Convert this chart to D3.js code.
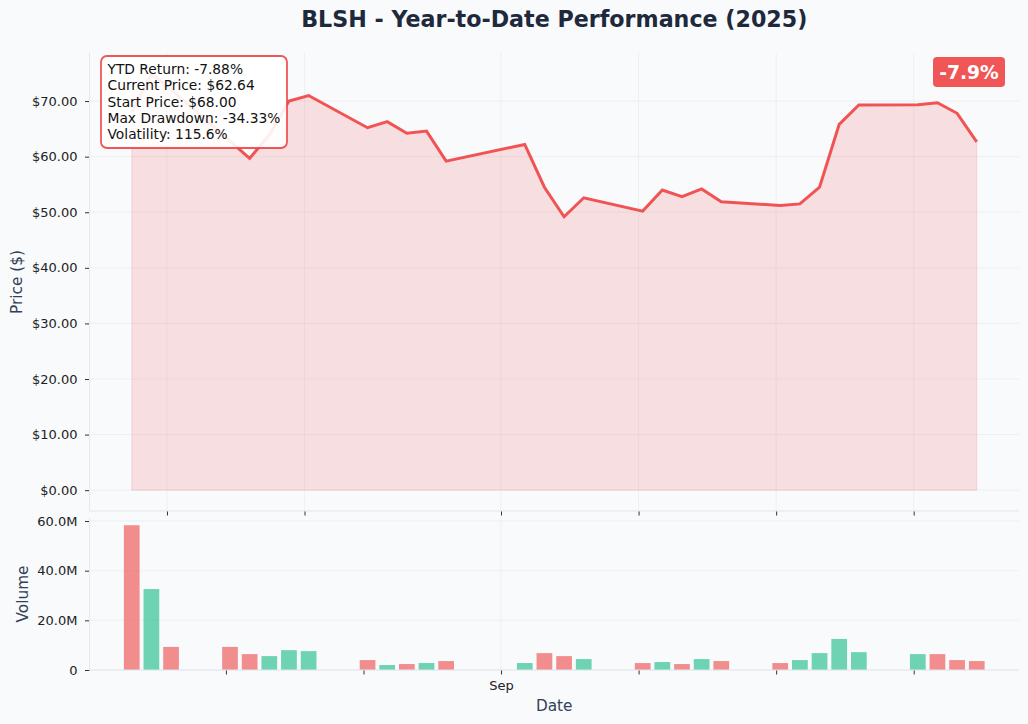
<!DOCTYPE html>
<html>
<head>
<meta charset="utf-8">
<script src="https://cdnjs.cloudflare.com/ajax/libs/d3/7.8.5/d3.min.js"></script>
<style>
  body { margin: 0; background: #f8fafc; }
  svg { display: block; font-family: "DejaVu Sans", sans-serif; }
  .tick text { fill: #222; font-size: 13px; font-family: "DejaVu Sans", sans-serif; }
  .tick line { stroke: #333; }
  .domain { stroke: none; }
</style>
</head>
<body>
<div id="chart"></div>
<script>
// trading days since the listing
var dates = ["2025-08-13","2025-08-14","2025-08-15",
  "2025-08-18","2025-08-19","2025-08-20","2025-08-21","2025-08-22",
  "2025-08-25","2025-08-26","2025-08-27","2025-08-28","2025-08-29",
  "2025-09-02","2025-09-03","2025-09-04","2025-09-05",
  "2025-09-08","2025-09-09","2025-09-10","2025-09-11","2025-09-12",
  "2025-09-15","2025-09-16","2025-09-17","2025-09-18","2025-09-19",
  "2025-09-22","2025-09-23","2025-09-24","2025-09-25"];
var closes = [68.00, 74.90, 72.1,
  62.8, 59.7, 63.9, 70.0, 71.0,
  65.2, 66.3, 64.2, 64.6, 59.2,
  62.2, 54.5, 49.19, 52.6,
  50.2, 54.0, 52.8, 54.2, 51.9,
  51.2, 51.5, 54.5, 65.8, 69.3,
  69.35, 69.7, 67.8, 62.64];
// volume in millions
var volumes = [58.3, 32.6, 9.3,
  9.3, 6.4, 5.6, 8.0, 7.6,
  4.0, 2.0, 2.4, 2.8, 3.6,
  2.8, 6.8, 5.6, 4.4,
  2.8, 3.2, 2.4, 4.4, 3.6,
  2.8, 4.0, 6.8, 12.5, 7.2,
  6.4, 6.4, 4.0, 3.6];
// close above open?
var upDay = [false, true, false,
  false, false, true, true, true,
  false, true, false, true, false,
  true, false, false, true,
  false, true, false, true, false,
  false, true, true, true, true,
  true, false, false, false];

var priceTicks = [0, 10, 20, 30, 40, 50, 60, 70];
var volumeTicks = [0, 20, 40, 60];
var priceDateTicks = ["2025-08-15","2025-08-22","2025-09-01","2025-09-08","2025-09-15","2025-09-22"];
var volumeDateTicks = ["2025-08-18","2025-08-25","2025-09-01","2025-09-08","2025-09-15","2025-09-22"];

var statsLines = ["YTD Return: -7.88%", "Current Price: $62.64", "Start Price: $68.00",
  "Max Drawdown: -34.33%", "Volatility: 115.6%"];
var badgeText = "-7.9%";

var red = "#ef4444", green = "#10b981";
var W = 1028, H = 724;
var left = 89.5, right = 1019;
var pTop = 53, pBottom = 511;
var vTop = 518, vBottom = 670;

var parse = d3.timeParse("%Y-%m-%d %H");
var parseDay = d3.timeParse("%Y-%m-%d");
var data = dates.map(function(d, i) {
  return {date: parse(d + " 05"), close: closes[i], vol: volumes[i], up: upDay[i]};
});

var svg = d3.select("#chart").append("svg")
  .attr("width", W).attr("height", H)
  .style("background", "#f8fafc");

// x scale with matplotlib-like 5% margins
var ext = d3.extent(data, function(d) { return d.date; });
var span = ext[1] - ext[0];
var x = d3.scaleTime()
  .domain([new Date(+ext[0] - span * 0.05), new Date(+ext[1] + span * 0.05)])
  .range([left, right]);

var pMax = d3.max(closes);
var y = d3.scaleLinear()
  .domain([-pMax * 0.05, pMax * 1.05])
  .range([pBottom, pTop]);

var vMax = d3.max(volumes);
var yv = d3.scaleLinear()
  .domain([0, vMax * 1.05])
  .range([vBottom, vTop]);

var gridColor = "#e5e7eb";

// ---- price panel ----
var pg = svg.append("g");

pg.append("g").selectAll("line")
  .data(priceTicks).enter().append("line")
  .attr("x1", left).attr("x2", right)
  .attr("y1", function(d) { return y(d); }).attr("y2", function(d) { return y(d); })
  .attr("stroke", gridColor).attr("stroke-opacity", 0.5);

pg.append("g").selectAll("line")
  .data(priceDateTicks).enter().append("line")
  .attr("x1", function(d) { return x(parseDay(d)); }).attr("x2", function(d) { return x(parseDay(d)); })
  .attr("y1", pTop).attr("y2", pBottom)
  .attr("stroke", gridColor).attr("stroke-opacity", 0.5);

var area = d3.area()
  .x(function(d) { return x(d.date); })
  .y0(y(0))
  .y1(function(d) { return y(d.close); });

pg.append("path")
  .datum(data)
  .attr("d", area)
  .attr("fill", red).attr("fill-opacity", 0.15)
  .attr("stroke", red).attr("stroke-opacity", 0.15);

var line = d3.line()
  .x(function(d) { return x(d.date); })
  .y(function(d) { return y(d.close); });

pg.append("path")
  .datum(data)
  .attr("d", line)
  .attr("fill", "none")
  .attr("stroke", red).attr("stroke-opacity", 0.9)
  .attr("stroke-width", 3)
  .attr("stroke-linejoin", "miter");

// axes
pg.append("g")
  .attr("transform", "translate(" + left + ",0)")
  .call(d3.axisLeft(y).tickValues(priceTicks).tickSize(4.5).tickPadding(7.5)
    .tickFormat(function(d) { return "$" + d3.format(".2f")(d); }));

pg.append("g")
  .attr("transform", "translate(0," + pBottom + ")")
  .call(d3.axisBottom(x).tickValues(priceDateTicks.map(function(d) { return parseDay(d); }))
    .tickSize(4.5).tickFormat(""));

pg.append("line")
  .attr("x1", left).attr("x2", left).attr("y1", pTop).attr("y2", pBottom)
  .attr("stroke", "#e2e8f0");
pg.append("line")
  .attr("x1", left).attr("x2", right).attr("y1", pBottom).attr("y2", pBottom)
  .attr("stroke", "#e2e8f0");

// ---- volume panel ----
var vg = svg.append("g");

vg.append("g").selectAll("line")
  .data(volumeTicks).enter().append("line")
  .attr("x1", left).attr("x2", right)
  .attr("y1", function(d) { return yv(d); }).attr("y2", function(d) { return yv(d); })
  .attr("stroke", gridColor).attr("stroke-opacity", 0.5);

vg.append("line")
  .attr("x1", x(parseDay("2025-09-01"))).attr("x2", x(parseDay("2025-09-01")))
  .attr("y1", vTop).attr("y2", vBottom)
  .attr("stroke", gridColor).attr("stroke-opacity", 0.5);

var dayMs = 24 * 3600 * 1000;
vg.append("g").selectAll("rect")
  .data(data).enter().append("rect")
  .attr("x", function(d) { return x(new Date(+d.date - 0.4 * dayMs)); })
  .attr("width", function(d) { return x(new Date(+d.date + 0.4 * dayMs)) - x(new Date(+d.date - 0.4 * dayMs)); })
  .attr("y", function(d) { return yv(d.vol); })
  .attr("height", function(d) { return yv(0) - yv(d.vol); })
  .attr("fill", function(d) { return d.up ? green : red; })
  .attr("fill-opacity", 0.6);

vg.append("g")
  .attr("transform", "translate(" + left + ",0)")
  .call(d3.axisLeft(yv).tickValues(volumeTicks).tickSize(4.5).tickPadding(7.5)
    .tickFormat(function(d) { return d === 0 ? "0" : d3.format(".1f")(d) + "M"; }));

vg.append("g")
  .attr("transform", "translate(0," + vBottom + ")")
  .call(d3.axisBottom(x).tickValues(volumeDateTicks.map(function(d) { return parseDay(d); }))
    .tickSize(4.5).tickPadding(6)
    .tickFormat(function(d) { return d.getDate() === 1 ? d3.timeFormat("%b")(d) : ""; }));

vg.append("line")
  .attr("x1", left).attr("x2", left).attr("y1", vTop).attr("y2", vBottom)
  .attr("stroke", "#e2e8f0");
vg.append("line")
  .attr("x1", left).attr("x2", right).attr("y1", vBottom).attr("y2", vBottom)
  .attr("stroke", "#e2e8f0");

// ---- labels ----
var labels = svg.append("g").attr("fill", "#334155");

labels.append("text")
  .text("BLSH - Year-to-Date Performance (2025)")
  .attr("x", (left + right) / 2).attr("y", 27)
  .attr("text-anchor", "middle")
  .attr("font-size", 22.2).attr("font-weight", "bold")
  .attr("fill", "#1e293b");

labels.append("text")
  .text("Date")
  .attr("x", (left + right) / 2).attr("y", 711)
  .attr("text-anchor", "middle")
  .attr("font-size", 15.3);

labels.append("text")
  .text("Price ($)")
  .attr("text-anchor", "middle")
  .attr("font-size", 15.3)
  .attr("transform", "translate(22," + ((pTop + pBottom) / 2) + ")rotate(-90)");

labels.append("text")
  .text("Volume")
  .attr("text-anchor", "middle")
  .attr("font-size", 15.3)
  .attr("transform", "translate(28," + ((vTop + vBottom) / 2) + ")rotate(-90)");

// stats box
var stats = svg.append("g").attr("transform", "translate(101,56)");
stats.append("rect")
  .attr("width", 186).attr("height", 92)
  .attr("rx", 6)
  .attr("fill", "white").attr("fill-opacity", 0.9)
  .attr("stroke", red).attr("stroke-opacity", 0.9).attr("stroke-width", 1.8);
stats.selectAll("text.stat")
  .data(statsLines).enter().append("text")
  .attr("class", "stat")
  .text(function(d) { return d; })
  .attr("x", 6.5)
  .attr("y", function(d, i) { return 18 + i * 16.3; })
  .attr("font-size", 13.8)
  .attr("fill", "#111");

// return badge
var badge = svg.append("g").attr("transform", "translate(933,57)");
badge.append("rect")
  .attr("width", 72).attr("height", 30)
  .attr("rx", 4)
  .attr("fill", red).attr("fill-opacity", 0.9);
badge.append("text")
  .text(badgeText)
  .attr("x", 36).attr("y", 21.5)
  .attr("text-anchor", "middle")
  .attr("font-size", 18.7).attr("font-weight", "bold")
  .attr("fill", "white");
</script>
</body>
</html>
